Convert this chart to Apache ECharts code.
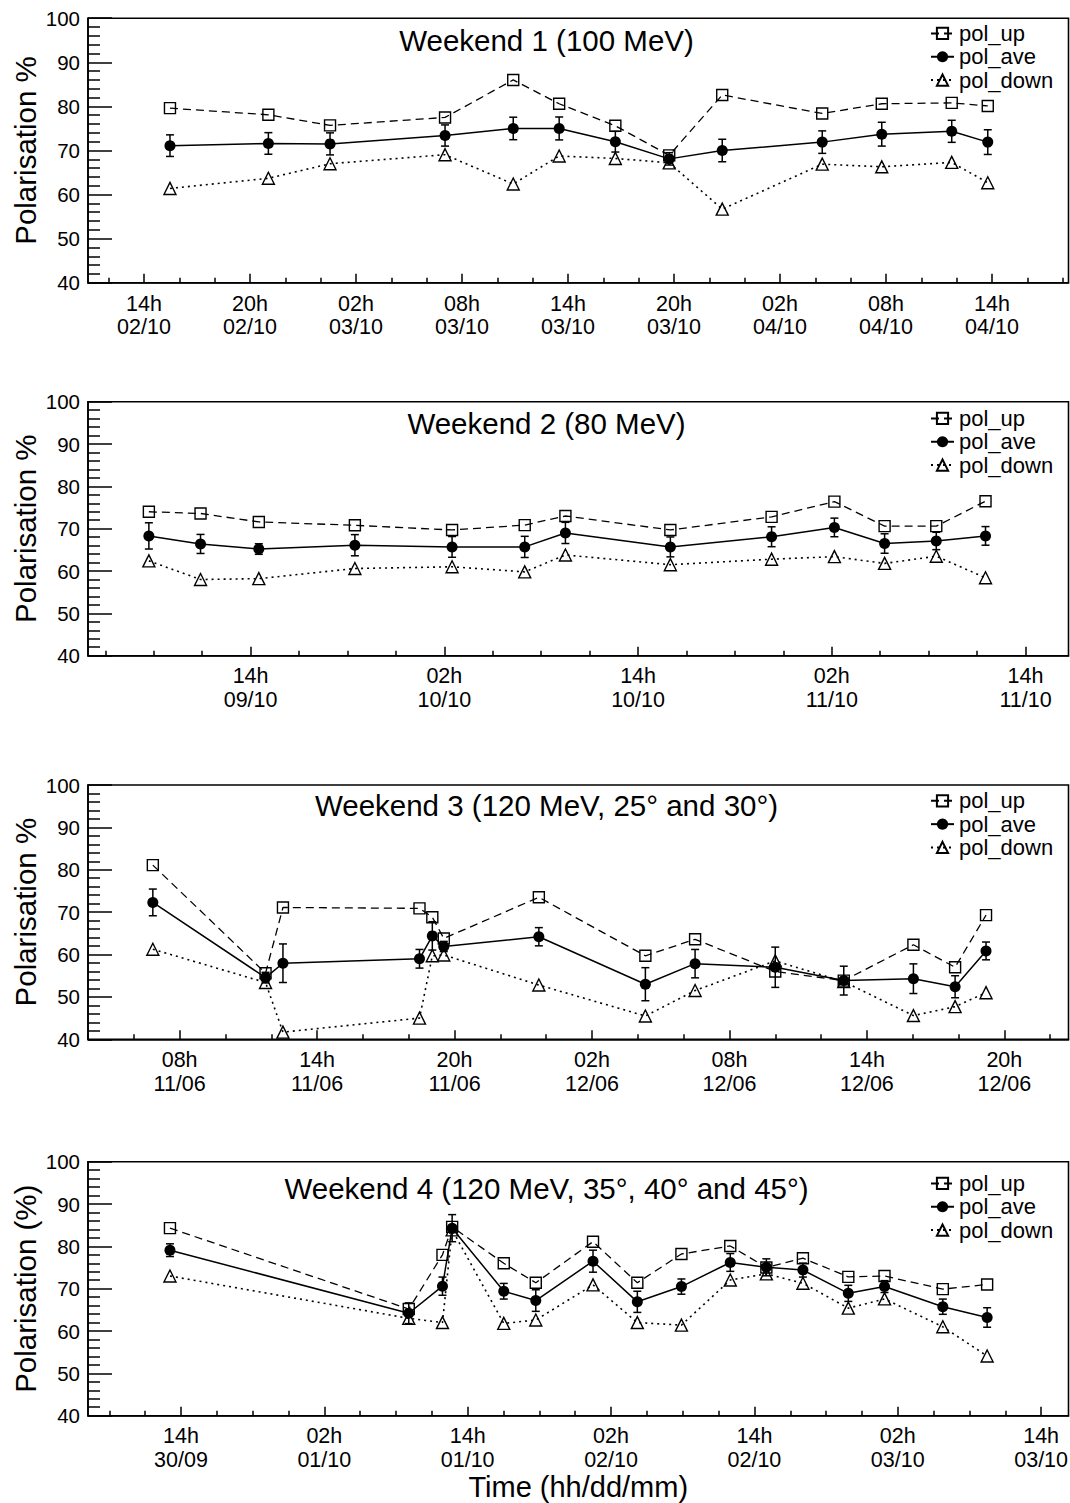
<!DOCTYPE html>
<html>
<head>
<meta charset="utf-8">
<title>Polarisation vs time</title>
<script src="https://cdn.jsdelivr.net/npm/echarts@6/dist/echarts.min.js"></script>
<style>
  html, body { margin: 0; padding: 0; background: #ffffff; }
  #chart { width: 1070px; height: 1503px; }
</style>
</head>
<body>
<div id="chart"></div>
<script>
// ---- Weekend 1 (100 MeV): time in hours from 02/10 00:00 ----
const w1Time = [15.47, 21.04, 24.53, 31.04, 34.90, 37.50, 40.68, 43.73, 46.73, 52.39, 55.76, 59.72, 61.76];
const w1Up   = [79.6, 78.1, 75.7, 77.5, 86.0, 80.6, 75.6, 68.9, 82.6, 78.4, 80.6, 80.8, 80.1];
const w1Ave  = [71.1, 71.6, 71.5, 73.4, 75.0, 75.0, 72.0, 68.1, 70.0, 71.9, 73.7, 74.35, 71.9];
const w1Err  = [2.45, 2.45, 2.5, 2.4, 2.55, 2.6, 2.35, 1.4, 2.55, 2.55, 2.7, 2.5, 2.8];
const w1Down = [61.4, 63.7, 67.0, 69.05, 62.4, 68.75, 68.2, 67.2, 56.7, 66.9, 66.3, 67.3, 62.7];
const w1Ticks = [14, 20, 26, 32, 38, 44, 50, 56, 62];
const w1TickLabels = ['14h\n02/10', '20h\n02/10', '02h\n03/10', '08h\n03/10', '14h\n03/10',
                      '20h\n03/10', '02h\n04/10', '08h\n04/10', '14h\n04/10'];

// ---- Weekend 2 (80 MeV): time in hours from 09/10 00:00 ----
const w2Time = [7.70, 10.90, 14.51, 20.46, 26.48, 30.98, 33.50, 40.00, 46.27, 50.16, 53.27, 56.47, 59.52];
const w2Up   = [74.0, 73.6, 71.6, 70.8, 69.7, 70.85, 73.0, 69.7, 72.8, 76.4, 70.6, 70.6, 76.5];
const w2Ave  = [68.3, 66.4, 65.2, 66.1, 65.7, 65.7, 69.0, 65.7, 68.1, 70.3, 66.5, 67.1, 68.3];
const w2Err  = [3.1, 2.25, 1.25, 2.5, 2.45, 2.5, 2.5, 2.35, 2.35, 2.2, 2.3, 2.05, 2.2];
const w2Down = [62.4, 58.0, 58.2, 60.6, 61.0, 59.8, 63.8, 61.5, 62.8, 63.4, 61.8, 63.5, 58.4];
const w2Ticks = [14, 26, 38, 50, 62];
const w2TickLabels = ['14h\n09/10', '02h\n10/10', '14h\n10/10', '02h\n11/10', '14h\n11/10'];

// ---- Weekend 3 (120 MeV, 25 and 30 deg): time in hours from 11/06 00:00 ----
const w3Time = [6.83, 11.75, 12.51, 18.47, 19.03, 19.53, 23.68, 28.33, 30.50, 34.00, 36.99, 40.03, 41.85, 43.20];
const w3Up   = [81.1, 55.6, 71.1, 70.9, 68.8, 63.8, 73.5, 59.7, 63.6, 56.0, 53.85, 62.3, 57.0, 69.3];
const w3Ave  = [72.3, 54.55, 57.95, 59.0, 64.4, 61.9, 64.2, 53.0, 57.85, 57.0, 53.85, 54.3, 52.4, 60.85];
const w3Err  = [3.15, 1.25, 4.55, 2.2, 3.35, 1.2, 2.15, 3.9, 3.35, 4.75, 3.4, 3.5, 2.6, 2.1];
const w3Down = [61.25, 53.4, 41.7, 45.0, 59.7, 59.9, 52.8, 45.5, 51.5, 58.5, 53.6, 45.6, 47.7, 51.0];
const w3Ticks = [8, 14, 20, 26, 32, 38, 44];
const w3TickLabels = ['08h\n11/06', '14h\n11/06', '20h\n11/06', '02h\n12/06', '08h\n12/06',
                      '14h\n12/06', '20h\n12/06'];

// ---- Weekend 4 (120 MeV, 35, 40 and 45 deg): time in hours from 30/09 00:00 ----
const w4Time = [13.08, 33.07, 35.89, 36.70, 41.02, 43.70, 48.49, 52.20, 55.89, 59.98, 63.00, 66.06, 69.86, 72.89, 77.77, 81.48];
const w4Up   = [84.3, 65.2, 78.0, 84.6, 76.0, 71.4, 81.1, 71.4, 78.2, 80.1, 75.0, 77.2, 72.8, 73.0, 69.9, 71.0];
const w4Ave  = [79.1, 64.2, 70.6, 84.3, 69.4, 67.2, 76.5, 66.9, 70.5, 76.2, 75.05, 74.4, 68.9, 70.5, 65.75, 63.2];
const w4Err  = [1.5, 2.45, 2.15, 3.2, 1.85, 2.55, 2.6, 2.5, 1.8, 2.1, 2.0, 1.65, 1.9, 1.4, 1.8, 2.3];
const w4Down = [73.0, 63.0, 62.0, 83.9, 61.8, 62.6, 70.9, 62.0, 61.4, 72.05, 73.5, 71.3, 65.4, 67.6, 61.0, 54.1];
const w4Ticks = [14, 26, 38, 50, 62, 74, 86];
const w4TickLabels = ['14h\n30/09', '02h\n01/10', '14h\n01/10', '02h\n02/10', '14h\n02/10',
                      '02h\n03/10', '14h\n03/10'];

const yTicks = [40, 50, 60, 70, 80, 90, 100];
const seriesNames = ['pol_up', 'pol_ave', 'pol_down'];

const weekends = [
  { title: 'Weekend 1 (100 MeV)', yName: 'Polarisation %',
    time: w1Time, up: w1Up, ave: w1Ave, err: w1Err, down: w1Down,
    ticks: w1Ticks, labels: w1TickLabels, minorStep: 2, min: 10.83, max: 66.33 },
  { title: 'Weekend 2 (80 MeV)', yName: 'Polarisation %',
    time: w2Time, up: w2Up, ave: w2Ave, err: w2Err, down: w2Down,
    ticks: w2Ticks, labels: w2TickLabels, minorStep: 3, min: 3.93, max: 64.66 },
  { title: 'Weekend 3 (120 MeV, 25\u00B0 and 30\u00B0)', yName: 'Polarisation %',
    time: w3Time, up: w3Up, ave: w3Ave, err: w3Err, down: w3Down,
    ticks: w3Ticks, labels: w3TickLabels, minorStep: 2, min: 4.0, max: 46.8 },
  { title: 'Weekend 4 (120 MeV, 35\u00B0, 40\u00B0 and 45\u00B0)', yName: 'Polarisation (%)',
    time: w4Time, up: w4Up, ave: w4Ave, err: w4Err, down: w4Down,
    ticks: w4Ticks, labels: w4TickLabels, minorStep: 3, min: 6.22, max: 88.29 }
];

// Pad geometry (pixels)
const pads = [
  { top: 18.2,   height: 264.6, titleY: 40.0,   legendTop: 21.8 },
  { top: 401.7,  height: 254.0, titleY: 423.3,  legendTop: 406.8 },
  { top: 785.0,  height: 254.3, titleY: 805.3,  legendTop: 789.2 },
  { top: 1161.7, height: 254.0, titleY: 1188.0, legendTop: 1171.8 }
];

const FONT = '"Liberation Sans", Arial, Helvetica, sans-serif';
const BLACK = '#000000';
const PLOT_LEFT = 88;
const PLOT_RIGHT = 1.5;

function minorTicks(ticks, step, min, max) {
  const out = [];
  let start = ticks[0];
  while (start - step >= min) start -= step;
  for (let v = start; v <= max + 1e-9; v += step) {
    if (!ticks.some(t => Math.abs(t - v) < 1e-6)) out.push(+v.toFixed(6));
  }
  return out;
}

function labelFor(w, v) {
  const k = w.ticks.findIndex(t => Math.abs(t - v) < 1e-6);
  return k >= 0 ? w.labels[k] : '';
}

const grid = [], xAxis = [], yAxis = [], series = [], legend = [], graphic = [];

weekends.forEach((w, i) => {
  const p = pads[i];
  grid.push({
    left: PLOT_LEFT, right: PLOT_RIGHT, top: p.top, height: p.height,
    show: true, borderColor: BLACK, borderWidth: 1.6, backgroundColor: 'rgba(0,0,0,0)',
    containLabel: false, outerBoundsMode: 'none'
  });

  // major ticks + date labels
  xAxis.push({
    gridIndex: i, type: 'value', min: w.min, max: w.max, position: 'bottom',
    axisLine: { show: true, onZero: false, lineStyle: { color: BLACK, width: 1.6 } },
    axisTick: { show: true, inside: true, length: 9, customValues: w.ticks,
                lineStyle: { color: BLACK, width: 1.5 } },
    axisLabel: { show: true, customValues: w.ticks, formatter: v => labelFor(w, v),
                 color: BLACK, fontFamily: FONT, fontSize: 21.5, lineHeight: 23.5, margin: 9 },
    splitLine: { show: false },
    name: i === 3 ? 'Time (hh/dd/mm)' : '',
    nameLocation: 'middle', nameGap: 56.5, nameMoveOverlap: false,
    nameTextStyle: { color: BLACK, fontFamily: FONT, fontSize: 29 }
  });
  // minor ticks
  xAxis.push({
    gridIndex: i, type: 'value', min: w.min, max: w.max, position: 'bottom',
    axisLine: { show: false, onZero: false },
    axisTick: { show: true, inside: true, length: 5,
                customValues: minorTicks(w.ticks, w.minorStep, w.min, w.max),
                lineStyle: { color: BLACK, width: 1.5 } },
    axisLabel: { show: false },
    splitLine: { show: false }
  });

  yAxis.push({
    gridIndex: i, type: 'value', min: yTicks[0], max: yTicks[yTicks.length - 1], interval: 10,
    position: 'left',
    axisLine: { show: true, onZero: false, lineStyle: { color: BLACK, width: 1.6 } },
    axisTick: { show: true, inside: true, length: 24, lineStyle: { color: BLACK, width: 1.5 } },
    minorTick: { show: true, splitNumber: 5, length: 12, lineStyle: { color: BLACK, width: 1.5 } },
    axisLabel: { color: BLACK, fontFamily: FONT, fontSize: 20.5, margin: 8 },
    splitLine: { show: false },
    name: w.yName, nameLocation: 'middle', nameGap: 48, nameMoveOverlap: false,
    nameTextStyle: { color: BLACK, fontFamily: FONT, fontSize: 29.5 }
  });

  const common = { type: 'line', xAxisIndex: 2 * i, yAxisIndex: i,
                   animation: false, emphasis: { disabled: true }, silent: true };

  series.push(Object.assign({}, common, {
    name: 'pol_up', z: 3,
    data: w.time.map((t, k) => [t, w.up[k]]),
    symbol: 'rect', symbolSize: 11,
    itemStyle: { color: 'rgba(0,0,0,0)', borderColor: BLACK, borderWidth: 1.4 },
    lineStyle: { color: BLACK, width: 1.3, type: [8, 5] }
  }));

  // error bars on the averaged polarisation
  series.push({
    name: 'pol_ave_err', type: 'custom', xAxisIndex: 2 * i, yAxisIndex: i,
    animation: false, silent: true, z: 4,
    data: w.time.map((t, k) => [t, w.ave[k] - w.err[k], w.ave[k] + w.err[k]]),
    encode: { x: 0, y: [1, 2] },
    renderItem: (params, api) => {
      const x = api.value(0);
      const lo = api.coord([x, api.value(1)]);
      const hi = api.coord([x, api.value(2)]);
      const cap = 4;
      const style = { stroke: BLACK, lineWidth: 1.5 };
      return {
        type: 'group',
        children: [
          { type: 'line', shape: { x1: lo[0], y1: lo[1], x2: hi[0], y2: hi[1] }, style },
          { type: 'line', shape: { x1: lo[0] - cap, y1: lo[1], x2: lo[0] + cap, y2: lo[1] }, style },
          { type: 'line', shape: { x1: hi[0] - cap, y1: hi[1], x2: hi[0] + cap, y2: hi[1] }, style }
        ]
      };
    }
  });

  series.push(Object.assign({}, common, {
    name: 'pol_ave', z: 5,
    data: w.time.map((t, k) => [t, w.ave[k]]),
    symbol: 'circle', symbolSize: 11,
    itemStyle: { color: BLACK },
    lineStyle: { color: BLACK, width: 1.5, type: 'solid' }
  }));

  series.push(Object.assign({}, common, {
    name: 'pol_down', z: 3,
    data: w.time.map((t, k) => [t, w.down[k]]),
    symbol: 'triangle', symbolSize: 12,
    itemStyle: { color: 'rgba(0,0,0,0)', borderColor: BLACK, borderWidth: 1.4 },
    lineStyle: { color: BLACK, width: 1.6, type: [2, 4] }
  }));

  legend.push({
    data: seriesNames, orient: 'vertical', left: 930, top: p.legendTop,
    itemWidth: 23, itemHeight: 14, itemGap: 0, padding: 0, selectedMode: false,
    textStyle: { color: BLACK, fontFamily: FONT, fontSize: 22, lineHeight: 23.3 }
  });

  graphic.push({
    type: 'text', x: 546.5, y: p.titleY, silent: true,
    style: { text: w.title, fill: BLACK, font: '29.5px ' + FONT,
             align: 'center', verticalAlign: 'middle' }
  });
});

const chart = echarts.init(document.getElementById('chart'), null, { renderer: 'svg' });
chart.setOption({
  backgroundColor: '#ffffff',
  animation: false,
  grid, xAxis, yAxis, series, legend, graphic
});
</script>
</body>
</html>
